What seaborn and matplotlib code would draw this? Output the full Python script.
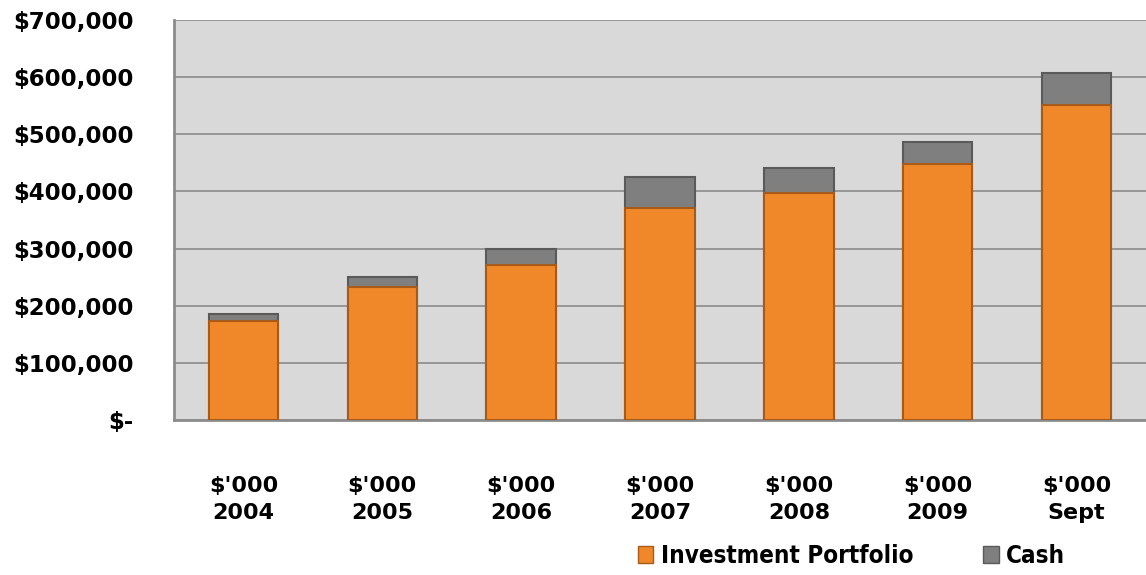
import matplotlib
matplotlib.use("Agg")
import matplotlib.pyplot as plt
import seaborn as sns
import pandas as pd
from matplotlib.patches import Patch
from matplotlib.ticker import FuncFormatter, MultipleLocator
from matplotlib import font_manager
from matplotlib.font_manager import FontProperties

# data
periods = ["2004", "2005", "2006", "2007", "2008", "2009", "Sept"]
investment = [173000, 233000, 272000, 371000, 397000, 448000, 551000]
cash = [13000, 17000, 28000, 55000, 44000, 39000, 56000]

df = pd.DataFrame({"period": periods, "investment": investment, "cash": cash})
df["total"] = df["investment"] + df["cash"]

sns.set_style("white")
plt.rcParams["font.family"] = ["DejaVu Sans"]
plt.rcParams["text.color"] = "black"

# narrow bold font for the legend if one is around
leg_prop = FontProperties(family="DejaVu Sans", weight="bold", stretch="condensed")
path = font_manager.findfont(leg_prop)
if "ondensed" in path or "arrow" in path:
    leg_prop.set_size(17.4)
else:
    leg_prop.set_size(15.7)

orange = "#f0882a"
grey = "#7f7f7f"

fig = plt.figure(figsize=(11.46, 5.75), dpi=100)
ax = fig.add_axes([174 / 1146, 1 - 420 / 575, 972 / 1146, 400 / 575])
ax.set_facecolor("#d9d9d9")

# stacked: totals (cash on top) then investment over it
sns.barplot(data=df, x="period", y="total", color=grey, saturation=1,
            width=0.5, edgecolor="#5a5a5a", linewidth=1.5, ax=ax, zorder=3)
sns.barplot(data=df, x="period", y="investment", color=orange, saturation=1,
            width=0.5, edgecolor="#a85a18", linewidth=1.5, ax=ax, zorder=4)

ax.set_xlim(-0.5, len(periods) - 0.5)
ax.set_ylim(0, 700000)
ax.yaxis.set_major_locator(MultipleLocator(100000))
ax.yaxis.set_major_formatter(FuncFormatter(lambda v, p: "$-" if v == 0 else f"${v:,.0f}"))
ax.grid(axis="y", color="#8c8c8c", linewidth=1.2, zorder=0)
ax.set_axisbelow(True)

ax.set_xticks(range(len(periods)))
ax.set_xticklabels([f"$'000\n{p}" for p in periods], fontsize=16, fontweight="bold",
                   linespacing=1.45, color="black")
ax.set_xticks([i - 0.5 for i in range(len(periods) + 1)], minor=True)
ax.tick_params(axis="x", which="major", length=0, pad=40)
ax.tick_params(axis="x", which="minor", length=10, width=1.5, color="#8c8c8c", direction="out")
ax.tick_params(axis="y", length=10, width=1.5, color="#8c8c8c", direction="out", pad=19,
               labelsize=16.5, labelcolor="black")
for lbl in ax.get_yticklabels():
    lbl.set_fontweight("bold")

ax.set_xlabel("")
ax.set_ylabel("")
for s in ["top", "right"]:
    ax.spines[s].set_visible(False)
for s in ["left", "bottom"]:
    ax.spines[s].set_color("#8c8c8c")
    ax.spines[s].set_linewidth(2)

handles = [Patch(facecolor=orange, edgecolor="#a85a18", label="Investment Portfolio"),
           Patch(facecolor=grey, edgecolor="#5a5a5a", label="Cash")]
fig.legend(handles=handles, loc="center left", bbox_to_anchor=(616 / 1146, 1 - 556 / 575),
           ncol=2, frameon=False, handlelength=0.65, handleheight=0.65, handletextpad=0.3,
           columnspacing=2.9, prop=leg_prop)

fig.savefig("out.png", dpi=100)
